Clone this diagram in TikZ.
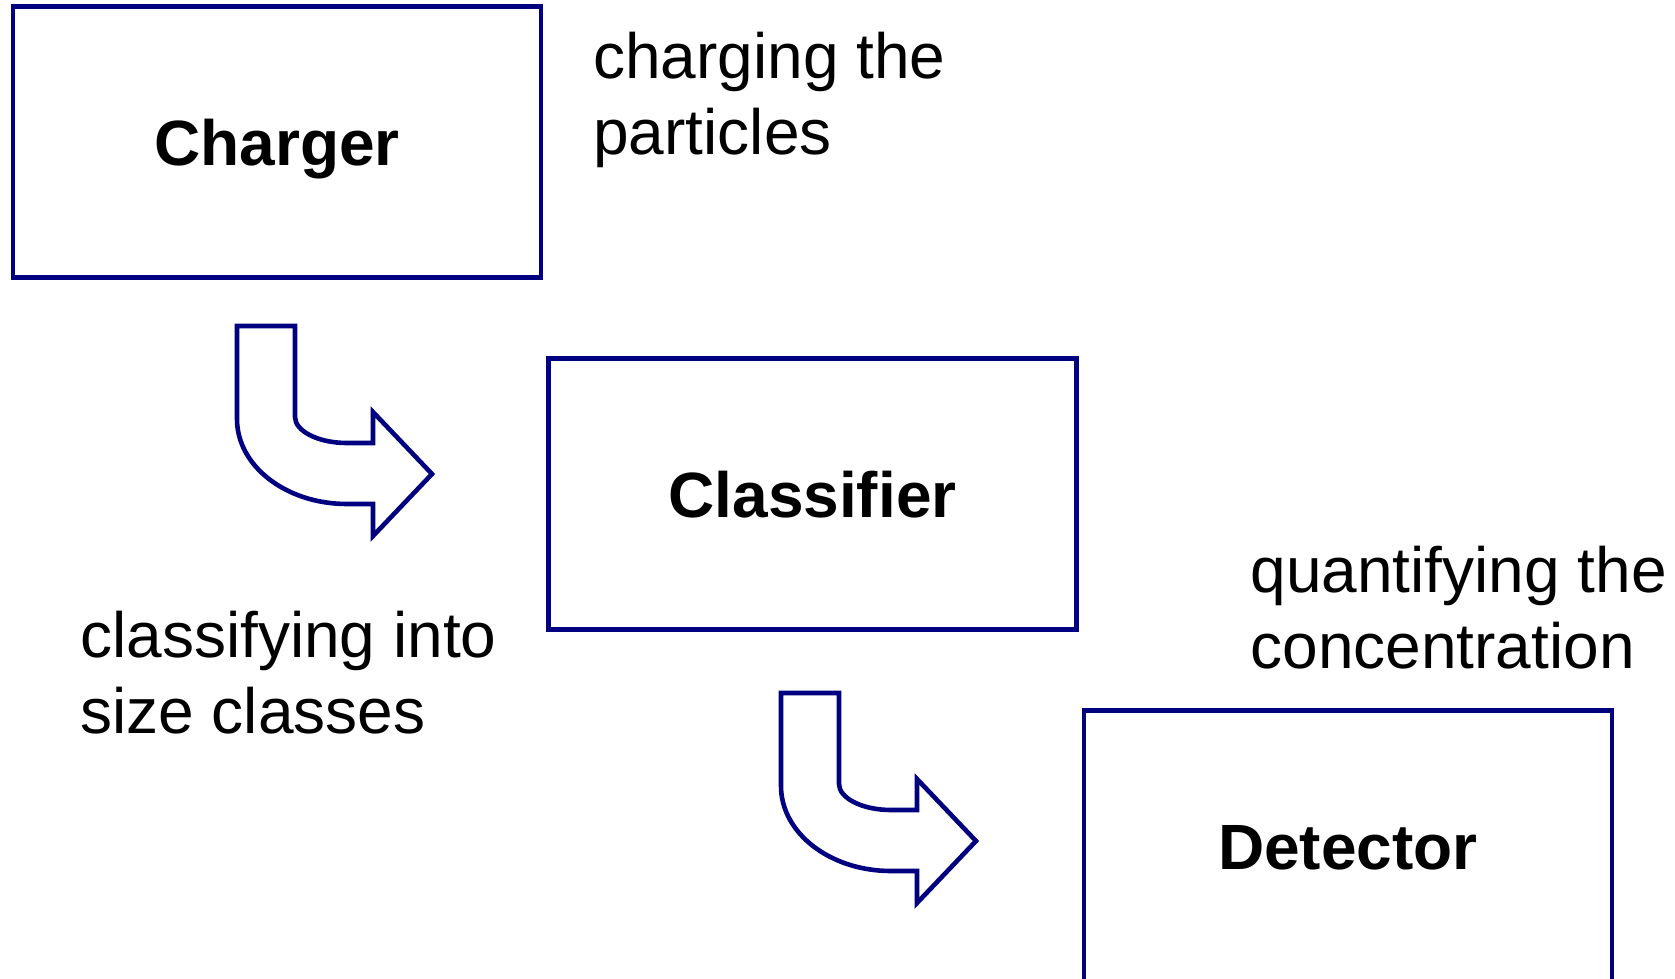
\documentclass[tikz,border=0pt]{standalone}
\usepackage{fontspec}
\setmainfont{Liberation Sans}
\usepackage{tikz}

\definecolor{stageblue}{RGB}{0,0,128}

\tikzset{
  stagebox/.style={draw=stageblue, line width=2.3pt, minimum width=264pt,
    minimum height=135.5pt, inner sep=0pt, text height=23pt, text depth=0pt,
    font=\fontsize{32}{38}\selectfont\bfseries},
  notetext/.style={anchor=base west, align=left, inner sep=0pt,
    font=\fontsize{32}{38}\selectfont},
  bentarrow/.pic={
    \draw[stageblue, line width=2.3pt, line join=miter]
      (0,0) -- (58,0) -- (58,91) .. controls (58,105) and (81,117) .. (110,117)
      -- (136,117) -- (136,86) -- (195,148) -- (136,210) -- (136,178)
      -- (110,178) .. controls (49,178) and (0,140) .. (0,93) -- cycle;
  }
}

\begin{document}
\begin{tikzpicture}[x=0.5pt, y=-0.5pt]
    \useasboundingbox (0,0) rectangle (1675,979);
    % stages
    \node[stagebox] (charger) at (277,142) {Charger};
    \node[stagebox] (classifier) at (812.5,494) {Classifier};
    \node[stagebox] (detector) at (1348,846) {Detector};
    % bent arrows between stages
    \pic at (237,326) {bentarrow};
    \pic at (781,693) {bentarrow};
    % notes (placed by the baseline of their last line)
    \node[notetext] (charging) at (593,155) {charging the\\particles};
    \node[notetext] (classifying) at (80,733) {classifying into\\size classes};
    \node[notetext] (quantifying) at (1250,668) {quantifying the\\concentration};
\end{tikzpicture}
\end{document}
